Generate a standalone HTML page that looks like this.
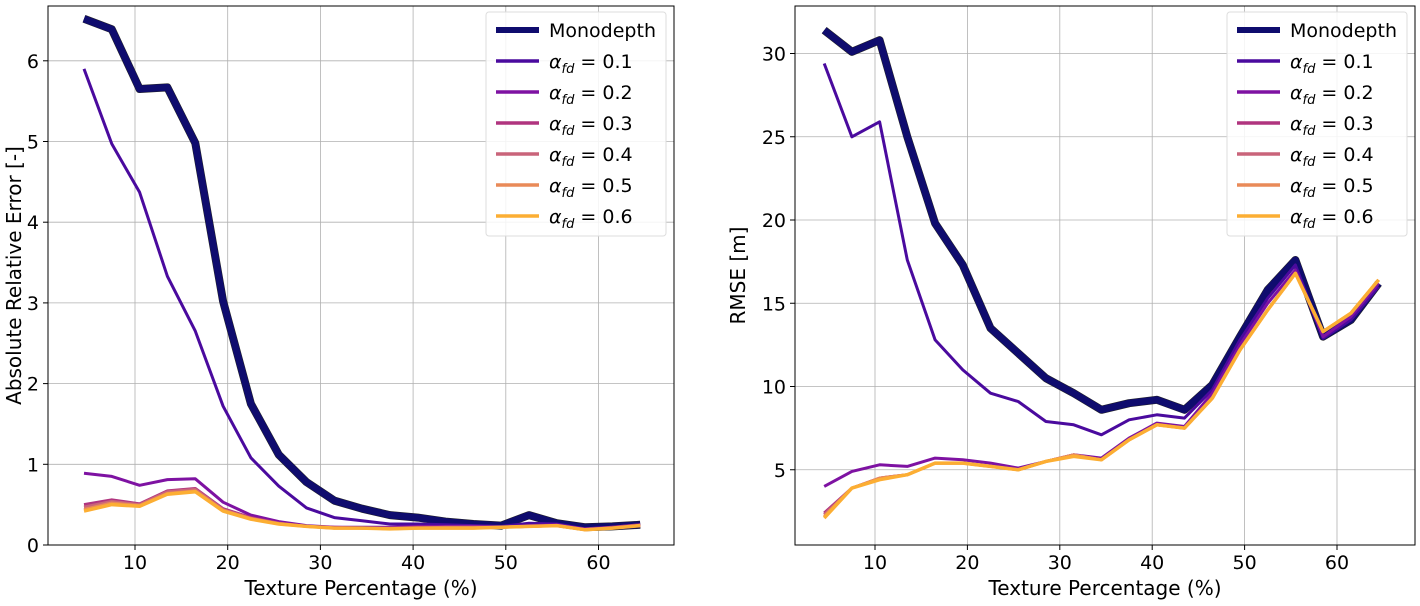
<!DOCTYPE html>
<html><head><meta charset="utf-8"><style>
body{margin:0;background:#fff;font-family:"Liberation Sans","DejaVu Sans",sans-serif}
svg text{font-family:"DejaVu Sans","Liberation Sans",sans-serif}
</style></head><body>
<svg id="c" width="1420" height="601" xmlns="http://www.w3.org/2000/svg"></svg>
<script>
const xs=[4.5,7.5,10.5,13.5,16.5,19.5,22.5,25.5,28.5,31.5,34.5,37.5,40.5,43.5,46.5,49.5,52.5,55.5,58.5,61.5,64.5];
const seriesNames=["Monodepth","0.1","0.2","0.3","0.4","0.5","0.6"];
const colors=["#0f0c6e","#4a0a9e","#7e12a2","#b0347f","#c9647a","#e98a58","#fcae33"];
const widths=[7,3,3,3,3,3,3.5];
const absRel=[
[6.52,6.39,5.65,5.67,4.98,3.02,1.75,1.12,0.78,0.55,0.45,0.37,0.34,0.29,0.26,0.24,0.37,0.27,0.22,0.23,0.25],
[5.9,4.97,4.37,3.33,2.65,1.72,1.08,0.73,0.46,0.34,0.3,0.26,0.26,0.25,0.24,0.23,0.27,0.26,0.2,0.22,0.24],
[0.89,0.85,0.74,0.81,0.82,0.53,0.37,0.29,0.24,0.22,0.22,0.22,0.23,0.23,0.23,0.22,0.24,0.25,0.2,0.22,0.25],
[0.5,0.56,0.51,0.67,0.7,0.45,0.34,0.27,0.23,0.22,0.21,0.21,0.22,0.22,0.22,0.22,0.23,0.24,0.19,0.22,0.25],
[0.47,0.54,0.5,0.66,0.69,0.44,0.33,0.27,0.23,0.21,0.21,0.21,0.21,0.22,0.22,0.22,0.23,0.24,0.19,0.21,0.24],
[0.44,0.52,0.49,0.64,0.67,0.43,0.33,0.26,0.23,0.21,0.21,0.2,0.21,0.21,0.21,0.22,0.23,0.24,0.19,0.21,0.24],
[0.42,0.5,0.48,0.63,0.66,0.42,0.32,0.26,0.23,0.21,0.21,0.2,0.21,0.21,0.21,0.22,0.23,0.24,0.19,0.21,0.24]];
const rmse=[
[31.4,30.1,30.8,25,19.8,17.3,13.5,12,10.5,9.6,8.6,9.0,9.2,8.6,10.1,13,15.8,17.6,13,14,16.2],
[29.4,25,25.9,17.6,12.8,11,9.6,9.1,7.9,7.7,7.1,8,8.3,8.1,9.8,12.8,15.3,17.3,12.9,14,16],
[4,4.9,5.3,5.2,5.7,5.6,5.4,5.1,5.5,5.9,5.7,6.9,7.8,7.6,9.6,12.5,15,17,13,14.2,16.2],
[2.4,3.9,4.5,4.7,5.4,5.4,5.2,5.0,5.5,5.9,5.6,6.8,7.7,7.5,9.3,12.2,14.6,16.8,13.3,14.4,16.4],
[2.3,3.9,4.5,4.7,5.4,5.4,5.2,5.0,5.5,5.9,5.6,6.8,7.7,7.5,9.3,12.2,14.6,16.8,13.3,14.4,16.4],
[2.2,3.9,4.5,4.7,5.4,5.4,5.2,5.0,5.5,5.9,5.6,6.8,7.7,7.5,9.3,12.2,14.6,16.8,13.3,14.4,16.4],
[2.1,3.9,4.4,4.7,5.4,5.4,5.2,5.0,5.5,5.8,5.6,6.8,7.7,7.5,9.3,12.2,14.6,16.8,13.3,14.4,16.4]];
const xTicks=[10,20,30,40,50,60];
const yTicksL=[0,1,2,3,4,5,6];
const yTicksR=[5,10,15,20,25,30];
const NS="http://www.w3.org/2000/svg";
const svg=document.getElementById('c');
function el(t,a,p){const e=document.createElementNS(NS,t);for(const k in a)e.setAttribute(k,a[k]);(p||svg).appendChild(e);return e;}
function panel(p){
  const g=el('g',{});
  
  
  const X=v=>p.x0+(v-p.xmin)*(p.x1-p.x0)/(p.xmax-p.xmin);
  const Y=v=>p.y0-(v-p.ymin)*(p.y0-p.y1)/(p.ymax-p.ymin);
  xTicks.forEach(t=>{const x=X(t);
    const l=el('line',{x1:x,x2:x,y1:p.y1,y2:p.y0,stroke:'#b0b0b0','stroke-width':0.8},g);
    
    el('line',{x1:x,x2:x,y1:p.y0,y2:p.y0+5,stroke:'#000'},g);
    const tx=el('text',{x:x,y:p.y0+24,'font-size':19,'text-anchor':'middle'},g);tx.textContent=t;
    });
  p.yt.forEach(t=>{const y=Y(t);
    const l=el('line',{x1:p.x0,x2:p.x1,y1:y,y2:y,stroke:'#b0b0b0','stroke-width':0.8},g);
    
    el('line',{x1:p.x0-5,x2:p.x0,y1:y,y2:y,stroke:'#000'},g);
    const tx=el('text',{x:p.x0-9,y:y+7,'font-size':19,'text-anchor':'end'},g);tx.textContent=t;
    });
  p.data.forEach((s,i)=>{
    const pts=s.map((v,j)=>X(xs[j]).toFixed(1)+','+Y(v).toFixed(1)).join(' ');
    if(i==0) el('polyline',{points:pts,fill:'none',stroke:'#222','stroke-width':widths[i]+1,'stroke-linejoin':'round'},g);
    const pl=el('polyline',{points:pts,fill:'none',stroke:colors[i],'stroke-width':widths[i],'stroke-linejoin':'round'},g);
    
    
  });
  el('rect',{x:p.x0,y:p.y1,width:p.x1-p.x0,height:p.y0-p.y1,fill:'none',stroke:'#000','stroke-width':1},g);
  const lg=el('g',{},g);
  
  const lx=p.x1-188, ly=p.y1+6;
  el('rect',{x:lx,y:ly,width:180,height:224,rx:3,fill:'#fff','fill-opacity':0.85,stroke:'#ddd'},lg);
  seriesNames.forEach((n,i)=>{const yy=ly+18+i*31;
    const e=el('g',{},lg);
    
    el('line',{x1:lx+10,x2:lx+53,y1:yy,y2:yy,stroke:colors[i],'stroke-width':i==0?6:3.5},e);
    const t=el('text',{x:lx+63,y:yy+7,'font-size':19},e);
    if(i==0)t.textContent='Monodepth';
    else t.innerHTML='<tspan font-style="italic">α</tspan><tspan font-style="italic" font-size="13" dy="5">fd</tspan><tspan dy="-5"> = '+n+'</tspan>';
  });
  const xl=el('text',{x:(p.x0+p.x1)/2,y:595,'font-size':20,'text-anchor':'middle'},g);
  xl.textContent='Texture Percentage (%)';
  const cy=(p.y0+p.y1)/2;
  const yl=el('text',{x:p.ylx,y:cy,'font-size':20,'text-anchor':'middle',transform:`rotate(-90 ${p.ylx} ${cy})`},g);
  yl.textContent=p.ylabel;
}
panel({name:'abs-rel-panel',x0:48,x1:674,y0:545,y1:6,xmin:(48-42.3)/9.27,xmax:(674-42.3)/9.27,ymin:0,ymax:(545-6)/80.7,yt:yTicksL,data:absRel,ylabel:'Absolute Relative Error [-]',ylx:21});
panel({name:'rmse-panel',x0:795,x1:1415,y0:545,y1:6,xmin:(795-782.6)/9.24,xmax:(1415-782.6)/9.24,ymin:(553-545)/16.65,ymax:(553-6)/16.65,yt:yTicksR,data:rmse,ylabel:'RMSE [m]',ylx:745});
</script>
</body></html>
